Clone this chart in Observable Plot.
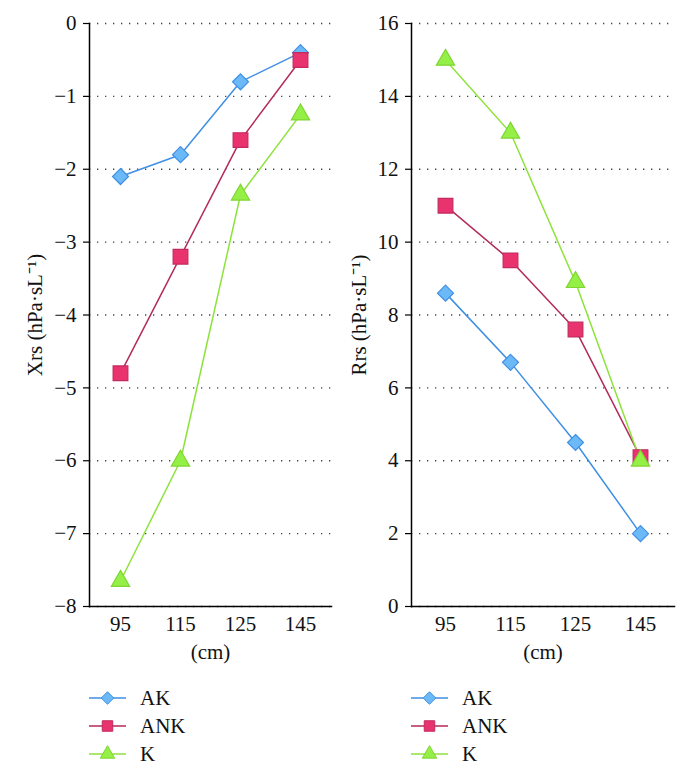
<!DOCTYPE html>
<html>
<head>
<meta charset="utf-8">
<script src="https://cdn.jsdelivr.net/npm/d3@7"></script>
<script src="https://cdn.jsdelivr.net/npm/@observablehq/plot@0.6"></script>
<style>
  html, body { margin: 0; padding: 0; background: #fff; }
  #wrap { display: flex; width: 688px; height: 771px; font-family: "Liberation Serif", "Times New Roman", Times, serif; }
  .panel { width: 344px; position: relative; }
  .legend { position: absolute; top: 684px; font-size: 21px; color: #111; }
  .legend .row { display: flex; align-items: center; height: 28px; }
  .legend svg { display: block; margin-right: 14px; }
  svg text { font-family: "Liberation Serif", "Times New Roman", Times, serif; }
</style>
</head>
<body>
<div id="wrap">
  <div class="panel" id="left"></div>
  <div class="panel" id="right"></div>
</div>
<script>
const heights = ["95", "115", "125", "145"];
const seriesNames = ["AK", "ANK", "K"];

const xrsAK  = [-2.1, -1.8, -0.8, -0.4];
const xrsANK = [-4.8, -3.2, -1.6, -0.5];
const xrsK   = [-7.65, -6.0, -2.35, -1.25];

const rrsAK  = [8.6, 6.7, 4.5, 2.0];
const rrsANK = [11.0, 9.5, 7.6, 4.1];
const rrsK   = [15.0, 13.0, 8.9, 4.0];

const xrsTicks = [0, -1, -2, -3, -4, -5, -6, -7, -8];
const rrsTicks = [0, 2, 4, 6, 8, 10, 12, 14, 16];

const styles = {
  AK:  {line: "#3f8fe4", fill: "#6cb9f7", stroke: "#3f8fe4", symbol: "diamond2", r: 7.2},
  ANK: {line: "#b42a5c", fill: "#e8336f", stroke: "#c22b60", symbol: "square", r: 8.3},
  K:   {line: "#8ee23c", fill: "#94ef46", stroke: "#7fd532", symbol: "triangle", r: 6.8}
};

const fmt = d => d < 0 ? "\u2212" + Math.abs(d) : String(d);

function toRows(a, b, c) {
  const rows = [];
  [[seriesNames[0], a], [seriesNames[1], b], [seriesNames[2], c]].forEach(([s, vals]) => {
    vals.forEach((v, i) => rows.push({series: s, x: heights[i], y: v}));
  });
  return rows;
}

function panel(rows, domain, ticks, label, marginLeft, marginRight, labelDx) {
  const marks = [
    Plot.gridY(ticks, {stroke: "#444", strokeOpacity: 1, strokeWidth: 1.3, strokeDasharray: "1.3,6.7"}),
    Plot.axisY(ticks, {tickSize: 6, tickPadding: 7, tickFormat: fmt, fontSize: 21, stroke: "#000", strokeWidth: 1.2, fill: "#111"}),
    Plot.axisX({tickSize: 0, tickPadding: 10, fontSize: 21, label: null, fill: "#111"}),
    Plot.frame({anchor: "left", stroke: "#000", strokeWidth: 1.5}),
    Plot.frame({anchor: "bottom", stroke: "#000", strokeWidth: 1.5}),
    Plot.text([label], {frameAnchor: "left", rotate: -90, dx: labelDx, textAnchor: "middle", lineAnchor: "middle", fontSize: 21, fill: "#111", text: d => d}),
    Plot.text(["(cm)"], {frameAnchor: "bottom", dy: 46, textAnchor: "middle", lineAnchor: "middle", fontSize: 21, fill: "#111", text: d => d})
  ];
  for (const s of seriesNames) {
    const st = styles[s];
    const data = rows.filter(d => d.series === s);
    marks.push(Plot.line(data, {x: "x", y: "y", stroke: st.line, strokeWidth: 1.5}));
  }
  for (const s of seriesNames) {
    const st = styles[s];
    const data = rows.filter(d => d.series === s);
    marks.push(Plot.dot(data, {x: "x", y: "y", symbol: () => st.symbol, r: st.r, fill: st.fill, stroke: st.stroke, strokeWidth: 1.2}));
  }
  return Plot.plot({
    width: 344,
    height: 680,
    marginLeft, marginRight,
    marginTop: 23,
    marginBottom: 74,
    style: "font-family: 'Liberation Serif', 'Times New Roman', Times, serif; font-size: 21px; color: #111; background: #fff;",
    x: {type: "point", domain: heights, padding: 0.5},
    y: {domain, label: null},
    symbol: {type: "identity"},
    marks
  });
}

function legend(container, left) {
  const div = document.createElement("div");
  div.className = "legend";
  div.style.left = left + "px";
  for (const s of seriesNames) {
    const st = styles[s];
    const row = document.createElement("div");
    row.className = "row";
    const svg = d3.create("svg").attr("width", 37).attr("height", 20);
    svg.append("line").attr("x1", 0).attr("x2", 37).attr("y1", 10).attr("y2", 10)
      .attr("stroke", st.line).attr("stroke-width", 1.5);
    const symType = s === "AK" ? d3.symbolDiamond2 : s === "ANK" ? d3.symbolSquare : d3.symbolTriangle;
    const size = s === "AK" ? 100 : s === "ANK" ? 110 : 90;
    svg.append("path").attr("transform", "translate(18.5,10)")
      .attr("d", d3.symbol(symType, size)())
      .attr("fill", st.fill).attr("stroke", st.stroke).attr("stroke-width", 1);
    row.appendChild(svg.node());
    const t = document.createElement("span");
    t.textContent = s;
    row.appendChild(t);
    div.appendChild(row);
  }
  container.appendChild(div);
}

const left = document.getElementById("left");
const right = document.getElementById("right");
left.appendChild(panel(toRows(xrsAK, xrsANK, xrsK), [-8, 0], xrsTicks, "Xrs (hPa·sL⁻¹)", 89, 13, -54));
right.appendChild(panel(toRows(rrsAK, rrsANK, rrsK), [0, 16], rrsTicks, "Rrs (hPa·sL⁻¹)", 67, 14, -52));
legend(left, 89);
legend(right, 67);
</script>
</body>
</html>
